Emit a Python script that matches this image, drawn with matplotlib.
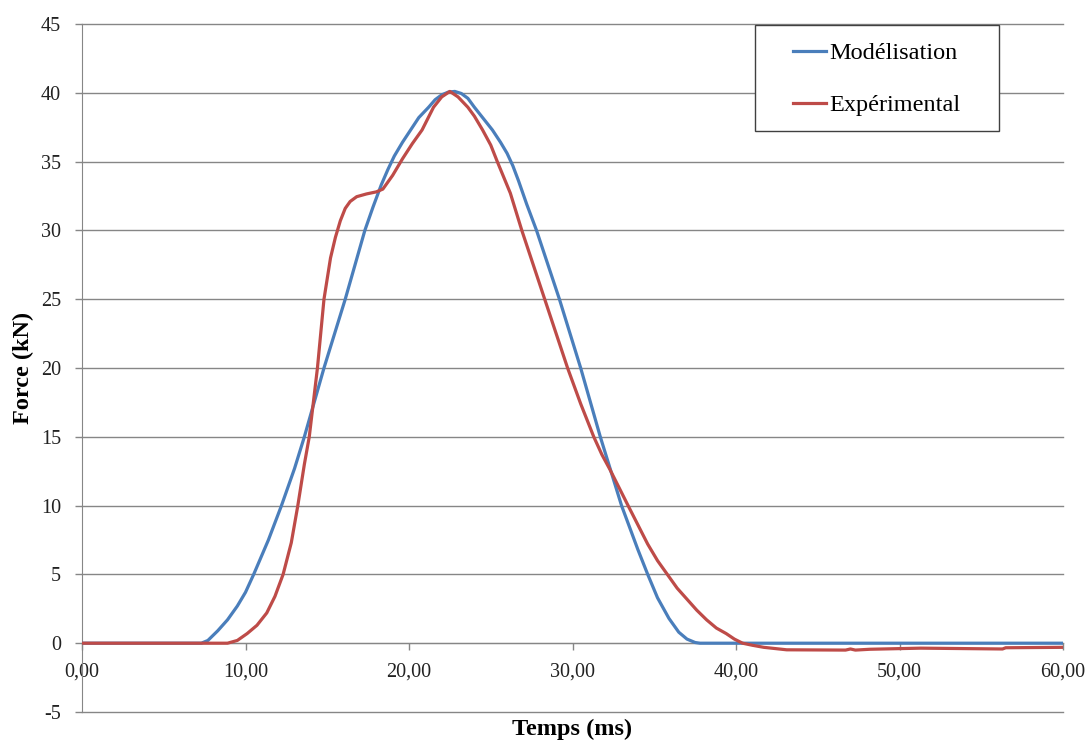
import matplotlib
matplotlib.use("Agg")
import matplotlib.pyplot as plt
from matplotlib.patches import Rectangle
from matplotlib.ticker import FuncFormatter, MultipleLocator

# Modélisation (blue)
model_t = [0.0, 7.3, 7.7, 8.3, 8.9, 9.5, 10.0, 10.5, 11.4, 12.2, 13.0, 13.6, 14.8,
           16.1, 17.3, 17.8, 18.3, 18.7, 19.1, 19.6, 20.1, 20.6, 21.2, 21.6, 22.0,
           22.4, 22.8, 23.2, 23.6, 24.0, 24.5, 25.1, 25.6, 26.0, 26.35, 26.7, 27.2,
           27.8, 29.2, 30.5, 31.7, 33.0, 34.0, 34.6, 35.2, 35.9, 36.5, 37.0, 37.5,
           37.8, 60.0]
model_f = [0.0, 0.0, 0.2, 0.9, 1.7, 2.7, 3.7, 5.0, 7.5, 10.0, 12.7, 15.0, 20.0,
           25.0, 30.0, 31.7, 33.3, 34.4, 35.4, 36.4, 37.3, 38.2, 38.95, 39.5, 39.85,
           40.05, 40.1, 39.95, 39.6, 38.95, 38.2, 37.3, 36.4, 35.6, 34.7, 33.6, 31.9,
           30.0, 25.0, 20.0, 15.0, 10.0, 6.8, 5.0, 3.3, 1.8, 0.8, 0.3, 0.05,
           0.0, 0.0]

# Expérimental (red)
exp_t = [0.0, 8.9, 9.5, 10.1, 10.7, 11.3, 11.8, 12.3, 12.8, 13.2, 13.6, 13.9, 14.4,
         14.8, 15.2, 15.5, 15.8, 16.1, 16.4, 16.8, 17.4, 18.0, 18.4, 19.0, 19.6, 20.2,
         20.8, 21.5, 22.0, 22.5, 23.0, 23.6, 24.0, 24.5, 25.0, 25.4, 26.2, 26.9, 28.3,
         29.7, 30.5, 31.3, 31.8, 32.3, 33.4, 34.0, 34.6, 35.2, 35.8, 36.4, 37.0, 37.6,
         38.2, 38.8, 39.4, 39.9, 40.4, 41.0, 41.7, 43.1, 46.7, 47.0, 47.3, 48.2, 51.3,
         56.3, 56.5, 60.0]
exp_f = [0.0, 0.0, 0.2, 0.7, 1.3, 2.2, 3.4, 5.0, 7.3, 10.0, 13.0, 15.0, 20.0,
         25.0, 28.0, 29.5, 30.7, 31.6, 32.1, 32.45, 32.65, 32.8, 33.0, 34.0, 35.2, 36.3,
         37.3, 38.95, 39.7, 40.1, 39.7, 38.95, 38.3, 37.3, 36.2, 35.0, 32.7, 30.0, 25.0,
         20.0, 17.4, 15.0, 13.7, 12.6, 10.0, 8.6, 7.2, 6.0, 5.0, 4.0, 3.2, 2.4,
         1.7, 1.1, 0.7, 0.3, 0.0, -0.15, -0.3, -0.48, -0.5, -0.42, -0.5, -0.44, -0.36,
         -0.42, -0.33, -0.3]

plt.rcParams['font.family'] = ['Liberation Serif', 'DejaVu Serif']

W, H = 1089, 742
fig = plt.figure(figsize=(W / 100, H / 100), dpi=100)
ax = fig.add_axes([82 / W, 1 - 712 / H, (1063 - 82) / W, (712 - 24) / H])

grid_c = '#868686'
ax.plot(model_t, model_f, color='#4A7EBB', lw=2.3, label='Modélisation', zorder=3)
ax.plot(exp_t, exp_f, color='#BE4B48', lw=2.3, label='Expérimental', zorder=3)

ax.set_xlim(0, 60)
ax.set_ylim(-5, 45)
ax.xaxis.set_major_locator(MultipleLocator(10))
ax.yaxis.set_major_locator(MultipleLocator(5))
ax.xaxis.set_major_formatter(FuncFormatter(lambda v, p: f"{v:.2f}".replace('.', ',')))
ax.yaxis.set_major_formatter(FuncFormatter(lambda v, p: f"{v:.0f}"))

ax.grid(axis='y', color=grid_c, lw=1.0)
for g in ax.get_ygridlines():
    g.set_clip_on(False)
ax.set_axisbelow(True)

for s in ['top', 'right']:
    ax.spines[s].set_visible(False)
ax.spines['left'].set_color(grid_c)
ax.spines['bottom'].set_color(grid_c)
ax.spines['bottom'].set_position(('data', 0))

ax.tick_params(axis='both', colors=grid_c, labelcolor='#222222', labelsize=14.5,
               length=5, width=1)
ax.tick_params(axis='y', pad=10)
ax.tick_params(axis='x', pad=9)

ax.set_xlabel('Temps (ms)', fontsize=17.5, fontweight='bold')
ax.set_ylabel('Force (kN)', fontsize=17.5, fontweight='bold')
ax.xaxis.set_label_coords(0.5, -0.010)
ax.yaxis.set_label_coords(-0.049, 0.5)

# legend box, drawn in figure coords
ax.add_patch(Rectangle((755 / W, 1 - 131 / H), (999 - 755) / W, (131 - 25) / H,
                       transform=fig.transFigure, facecolor='white',
                       edgecolor='#404040', lw=1.0, zorder=4, clip_on=False))
leg = ax.legend(loc='upper left', bbox_to_anchor=(793 / W, 1 - 42 / H),
                bbox_transform=fig.transFigure, frameon=False, fontsize=17.5,
                handlelength=1.35, handletextpad=0.15, labelspacing=1.25,
                borderpad=0, borderaxespad=0)
leg.set_zorder(5)

fig.savefig('out.png', dpi=100)
